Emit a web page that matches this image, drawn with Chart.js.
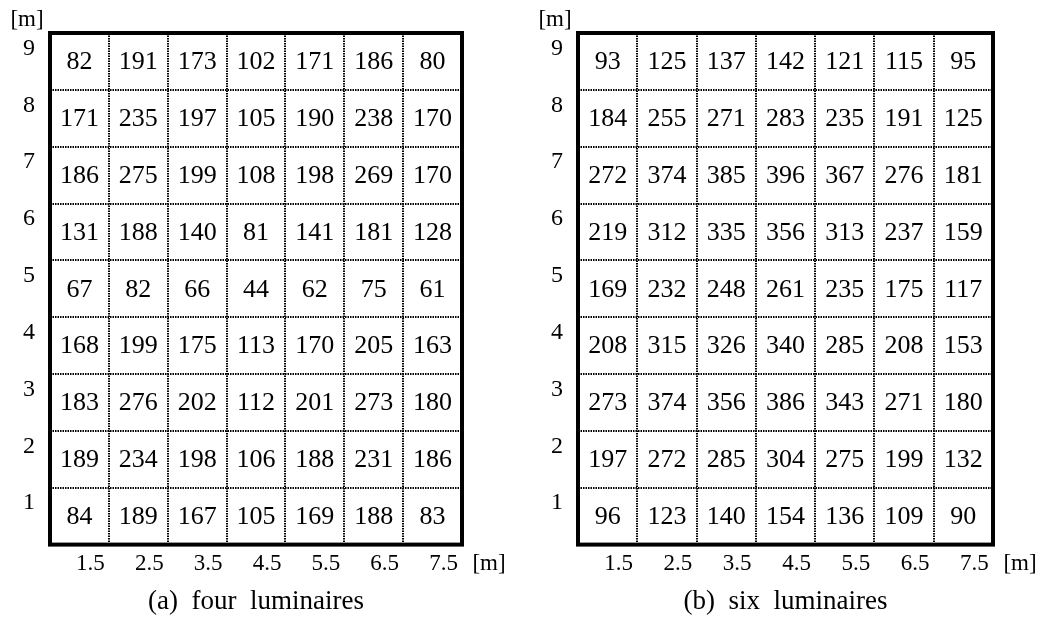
<!DOCTYPE html>
<html>
<head>
<meta charset="utf-8">
<script src="https://cdn.jsdelivr.net/npm/chart.js@4/dist/chart.umd.min.js"></script>
<style>
  html, body { margin: 0; padding: 0; background: #fff; }
  #wrap { position: relative; width: 1042px; height: 625px; }
  #wrap canvas { position: absolute; top: 0; }
</style>
</head>
<body>
<div id="wrap">
  <canvas id="chartA" width="521" height="625" style="left:0"></canvas>
  <canvas id="chartB" width="521" height="625" style="left:521px"></canvas>
</div>
<script>
// x positions [m] and rows (top to bottom) [m]
const xLabels = ['1.5', '2.5', '3.5', '4.5', '5.5', '6.5', '7.5'];
const yLabels = ['9', '8', '7', '6', '5', '4', '3', '2', '1'];

// (a) four luminaires, one row per y label, top row first
const fourLuminaires = [
    [82, 191, 173, 102, 171, 186, 80],
    [171, 235, 197, 105, 190, 238, 170],
    [186, 275, 199, 108, 198, 269, 170],
    [131, 188, 140, 81, 141, 181, 128],
    [67, 82, 66, 44, 62, 75, 61],
    [168, 199, 175, 113, 170, 205, 163],
    [183, 276, 202, 112, 201, 273, 180],
    [189, 234, 198, 106, 188, 231, 186],
    [84, 189, 167, 105, 169, 188, 83]
];

// (b) six luminaires
const sixLuminaires = [
    [93, 125, 137, 142, 121, 115, 95],
    [184, 255, 271, 283, 235, 191, 125],
    [272, 374, 385, 396, 367, 276, 181],
    [219, 312, 335, 356, 313, 237, 159],
    [169, 232, 248, 261, 235, 175, 117],
    [208, 315, 326, 340, 285, 208, 153],
    [273, 374, 356, 386, 343, 271, 180],
    [197, 272, 285, 304, 275, 199, 132],
    [96, 123, 140, 154, 136, 109, 90]
];

const serif = "'Liberation Serif', 'DejaVu Serif', serif";

// writes the values into the cells, draws the heavy frame and the [m] units
const cellText = {
    id: 'cellText',
    afterDatasetsDraw(chart) {
        const ctx = chart.ctx;
        const area = chart.chartArea;
        const meta = chart.getDatasetMeta(0);
        const points = chart.data.datasets[0].data;

        ctx.save();
        ctx.fillStyle = '#000';
        ctx.font = '26px ' + serif;
        ctx.textAlign = 'center';
        ctx.textBaseline = 'middle';
        meta.data.forEach((el, i) => {
            ctx.fillText(String(points[i].v), el.x, el.y + 1);
        });

        ctx.lineWidth = 4;
        ctx.strokeStyle = '#000';
        ctx.strokeRect(area.left, area.top, area.right - area.left, area.bottom - area.top);

        ctx.font = '23px ' + serif;
        ctx.fillText('[m]', area.left - 23, 20);
        ctx.fillText('[m]', area.right + 27, area.bottom + 19);
        ctx.restore();
    }
};

function makeGrid(canvasId, values, caption, leftWidth, rightPad) {
    const points = [];
    values.forEach((row, r) => {
        row.forEach((v, c) => {
            points.push({ x: xLabels[c], y: yLabels[r], v: v });
        });
    });

    const ctx = document.getElementById(canvasId).getContext('2d');
    return new Chart(ctx, {
        type: 'scatter',
        data: {
            datasets: [{
                data: points,
                pointRadius: 0,
                pointHoverRadius: 0
            }]
        },
        options: {
            responsive: false,
            animation: false,
            events: [],
            layout: {
                padding: { top: 33, right: rightPad, bottom: 5, left: 0 }
            },
            scales: {
                x: {
                    type: 'category',
                    labels: xLabels,
                    offset: true,
                    grid: { offset: true, color: '#000', lineWidth: 2, drawTicks: false },
                    border: { display: false, dash: [1.5, 1] },
                    ticks: {
                        color: '#000',
                        font: { family: serif, size: 23 },
                        padding: 6,
                        labelOffset: 11,
                        maxRotation: 0,
                        autoSkip: false
                    },
                    afterFit: scale => { scale.height = 37; }
                },
                y: {
                    type: 'category',
                    labels: yLabels,
                    offset: true,
                    grid: { offset: true, color: '#000', lineWidth: 2, drawTicks: false },
                    border: { display: false, dash: [1.5, 1] },
                    ticks: {
                        color: '#000',
                        font: { family: serif, size: 24 },
                        padding: 15,
                        labelOffset: -13,
                        autoSkip: false
                    },
                    afterFit: scale => { scale.width = leftWidth; }
                }
            },
            plugins: {
                legend: { display: false },
                tooltip: { enabled: false },
                title: {
                    display: true,
                    position: 'bottom',
                    fullSize: false,
                    text: caption,
                    color: '#000',
                    font: { family: serif, size: 27, weight: 'normal' },
                    padding: { top: 4, bottom: 2 }
                }
            }
        },
        plugins: [cellText]
    });
}

makeGrid('chartA', fourLuminaires, '(a)  four  luminaires', 50, 59);
makeGrid('chartB', sixLuminaires, '(b)  six  luminaires', 57, 49);
</script>
</body>
</html>
